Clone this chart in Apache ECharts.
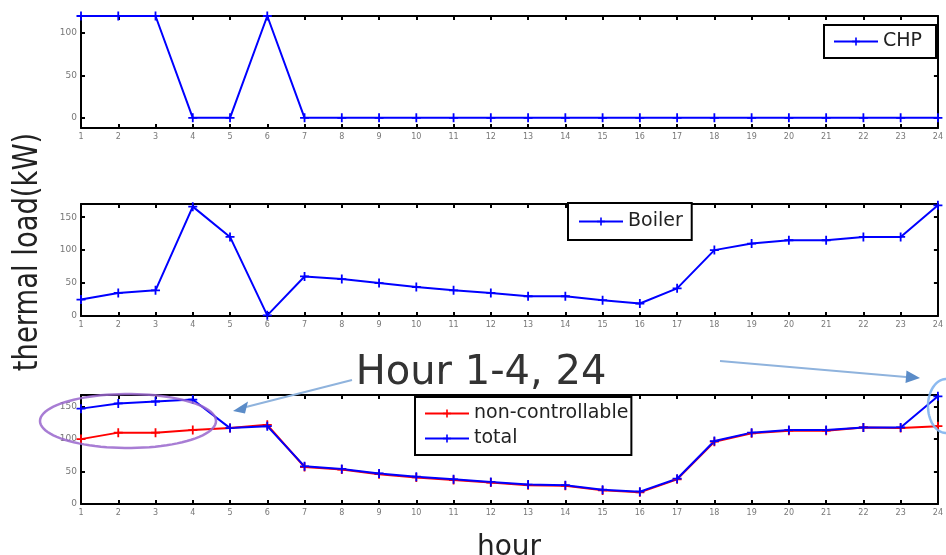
<!DOCTYPE html>
<html>
<head>
<meta charset="utf-8">
<script src="https://cdn.jsdelivr.net/npm/echarts@6/dist/echarts.min.js"></script>
<style>
html,body{margin:0;padding:0;background:#fff;}
#chart{width:946px;height:555px;}
</style>
</head>
<body>
<div id="chart"></div>
<script>
// ---- data ----
const hours = ['1','2','3','4','5','6','7','8','9','10','11','12','13','14','15','16','17','18','19','20','21','22','23','24'];
const chp = [120,120,120,0,0,120,0,0,0,0,0,0,0,0,0,0,0,0,0,0,0,0,0,0];
const boiler = [25,35,39,166,120,1,60,56,50,44,39,35,30,30,24,19,42,100,110,115,115,120,120,168];
const nonControllable = [100,110,110,114,117,122,57,53,46,41,37,33,29,28,21,18,38,96,109,113,113,118,117,120];
const total = [147,155,158,161,117,120,58,54,47,42,38,34,30,29,22,19,39,97,110,114,114,118,118,166];
const yTicksChp = [0,50,100];
const yTicksBoiler = [0,50,100,150];
const yTicksTotal = [0,50,100,150];

// ---- layout ----
const FONT = 'DejaVu Sans';
const plus = 'path://M4,0L6,0L6,4L10,4L10,6L6,6L6,10L4,10L4,6L0,6L0,4L4,4Z';
const grids = [
  {left:81, right:6, top:16, height:112},
  {left:81, right:6, top:204, height:112},
  {left:81, right:6, top:395, height:109}
];
const yRanges = [[-12,120],[0,170],[0,168]];
const yTicks = [yTicksChp, yTicksBoiler, yTicksTotal];

const xAxes = [], yAxes = [];
grids.forEach((g, i) => {
  const tick = {show:true, inside:true, length:4, interval:0, lineStyle:{color:'#000', width:2}};
  xAxes.push({type:'category', gridIndex:i, data:hours, boundaryGap:false, position:'bottom',
    axisLine:{show:true, onZero:false, lineStyle:{color:'#000', width:2}},
    axisTick:tick,
    axisLabel:{show:true, interval:0, fontSize:8, color:'#777', margin:5, fontFamily:FONT},
    splitLine:{show:false}});
  xAxes.push({type:'category', gridIndex:i, data:hours, boundaryGap:false, position:'top',
    axisLine:{show:true, onZero:false, lineStyle:{color:'#000', width:2}},
    axisTick:tick, axisLabel:{show:false}, splitLine:{show:false}});
  const yt = {show:true, inside:true, length:4, customValues:yTicks[i], lineStyle:{color:'#000', width:2}};
  yAxes.push({type:'value', gridIndex:i, min:yRanges[i][0], max:yRanges[i][1], position:'left',
    axisLine:{show:true, onZero:false, lineStyle:{color:'#000', width:2}},
    axisTick:yt,
    axisLabel:{show:true, customValues:yTicks[i], fontSize:9, color:'#777', margin:4, fontFamily:FONT},
    splitLine:{show:false}});
  yAxes.push({type:'value', gridIndex:i, min:yRanges[i][0], max:yRanges[i][1], position:'right',
    axisLine:{show:true, onZero:false, lineStyle:{color:'#000', width:2}},
    axisTick:yt, axisLabel:{show:false}, splitLine:{show:false}});
});

function lineSeries(name, data, color, gi) {
  return {name:name, type:'line', data:data, xAxisIndex:gi*2, yAxisIndex:gi*2,
    symbol:plus, symbolSize:9, showSymbol:true, clip:false,
    lineStyle:{color:color, width:2}, itemStyle:{color:color}};
}

function ellipsePts(cx, cy, rx, ry) {
  const p = [];
  for (let k = 0; k < 90; k++) {
    const t = k / 90 * Math.PI * 2;
    p.push([cx + rx * Math.cos(t), cy + ry * Math.sin(t)]);
  }
  return p;
}

const legendBase = {
  selectedMode:false, borderColor:'#000', borderWidth:2, backgroundColor:'#fff',
  itemWidth:44, itemHeight:10, borderRadius:0,
  textStyle:{fontSize:19, color:'#222', fontFamily:FONT}
};

const option = {
  animation:false,
  backgroundColor:'#fff',
  grid:grids,
  xAxis:xAxes,
  yAxis:yAxes,
  legend:[
    Object.assign({}, legendBase, {data:['CHP'], left:824, top:25, padding:[7,14,7,9]}),
    Object.assign({}, legendBase, {data:['Boiler'], left:568, top:203, padding:[9,9,9,10]}),
    Object.assign({}, legendBase, {data:['non-controllable','total'], left:415, top:397, orient:'vertical', itemGap:6, padding:[7,3,7,9]})
  ],
  series:[
    lineSeries('CHP', chp, '#0000ff', 0),
    lineSeries('Boiler', boiler, '#0000ff', 1),
    lineSeries('non-controllable', nonControllable, '#ff0000', 2),
    lineSeries('total', total, '#0000ff', 2)
  ],
  graphic:[
    {type:'text', z:100, x:28, y:252, rotation:Math.PI/2, scaleX:0.83, scaleY:1,
      style:{text:'thermal load(kW)', fontSize:33, fontFamily:FONT, fill:'#222', align:'center', verticalAlign:'middle'}},
    {type:'text', z:100, x:509, y:562,
      style:{text:'hour', fontSize:28, fontFamily:FONT, fill:'#222', align:'center', verticalAlign:'bottom'}},
    {type:'text', z:100, x:481, y:374,
      style:{text:'Hour 1-4, 24', fontSize:40, fontFamily:FONT, fill:'#333', align:'center', verticalAlign:'middle'}},
    {type:'line', z:100, shape:{x1:352, y1:380, x2:246, y2:407}, style:{stroke:'#8fb3dd', lineWidth:2}},
    {type:'polygon', z:100, shape:{points:[[233,411],[248,401.5],[245,413.5]]}, style:{fill:'#5b8cc8'}},
    {type:'line', z:100, shape:{x1:720, y1:361, x2:906, y2:377}, style:{stroke:'#8fb3dd', lineWidth:2}},
    {type:'polygon', z:100, shape:{points:[[920,378],[906.5,370.5],[905.5,383]]}, style:{fill:'#5b8cc8'}},
    {type:'polygon', z:100, shape:{points:ellipsePts(128,421,88,27)}, style:{fill:null, stroke:'#9966cc', lineWidth:2.5, opacity:0.85}},
    {type:'polygon', z:100, shape:{points:ellipsePts(946,406,18,27)}, style:{fill:null, stroke:'#7fb2ee', lineWidth:2.5, opacity:0.9}}
  ]
};

const chart = echarts.init(document.getElementById('chart'), null, {renderer:'canvas'});
chart.setOption(option);
</script>
</body>
</html>
